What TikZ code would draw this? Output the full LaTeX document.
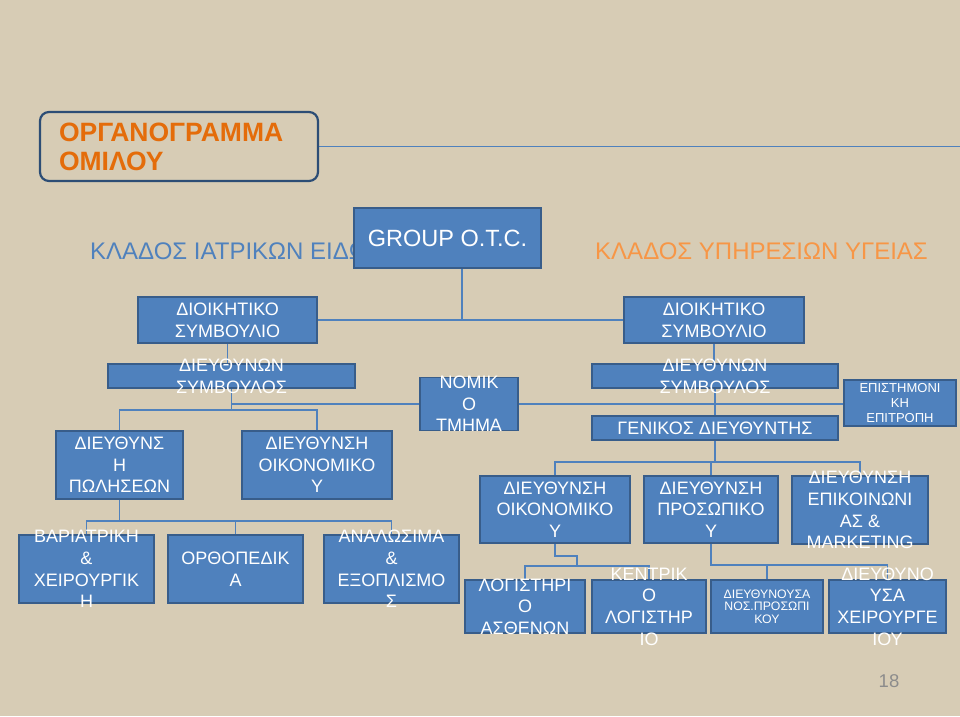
\documentclass[tikz,border=0pt]{standalone}
\usepackage{fontspec}
\setmainfont{Liberation Sans}
\usepackage{xcolor}
\usepackage{tikz}
\usetikzlibrary{backgrounds}
\definecolor{linen}{RGB}{215,204,181}
\definecolor{unitfill}{RGB}{79,129,189}
\definecolor{unitline}{RGB}{56,93,138}
\definecolor{titleline}{RGB}{44,77,117}
\definecolor{titleorange}{RGB}{228,108,10}
\definecolor{medblue}{RGB}{79,129,189}
\definecolor{careorange}{RGB}{247,150,70}
\definecolor{pagegray}{RGB}{140,140,140}
\tikzset{
  % node options
  unit/.style={rectangle,draw=unitline,fill=unitfill,line width=1.8pt,inner sep=0pt},
  wh/.style 2 args={minimum width=#1pt,minimum height=#2pt},
  unittext/.style={text=white,align=center,inner sep=0pt,font=\fontsize{18}{21.7}\selectfont},
  smalltext/.style={unittext,font=\fontsize{13}{15}\selectfont},
  tinytext/.style={unittext,font=\fontsize{12.3}{12.6}\selectfont},
  heading/.style={anchor=base west,inner sep=0pt,font=\fontsize{24}{28}\selectfont},
  titlebox/.style={rectangle,rounded corners=9pt,draw=titleline,line width=2.2pt,
    text=titleorange,align=left,font=\bfseries\fontsize{26.5}{29}\selectfont},
  % path options
  link/.style={draw=medblue,line width=1.2pt},
}

\begin{document}
\begin{tikzpicture}[x=1pt,y=-1pt]
  \useasboundingbox (0,0) rectangle (960,716);
  \begin{scope}[on background layer]
    \fill[linen] (0,0) rectangle (960,716);
  \end{scope}

  % title and branches
  \node[titlebox,text width=240pt,inner xsep=19pt,minimum height=69pt] (title) at (179,146.5) {ΟΡΓΑΝΟΓΡΑΜΜΑ\\ΟΜΙΛΟΥ};
  \node[heading,text=medblue] (hdL) at (90,259) {ΚΛΑΔΟΣ ΙΑΤΡΙΚΩΝ ΕΙΔΩΝ};
  \node[heading,text=careorange] (hdR) at (595,259) {ΚΛΑΔΟΣ ΥΠΗΡΕΣΙΩΝ ΥΓΕΙΑΣ};
  \node[unit,wh={187}{60},text=white,font=\fontsize{23.5}{28}\selectfont] (group) at (447.5,238) {GROUP O.T.C.};

  % medical products branch
  \node[unit,wh={179}{46},label={[unittext]center:ΔΙΟΙΚΗΤΙΚΟ\\ΣΥΜΒΟΥΛΙΟ}] (dsL) at (227.5,320) {};
  \node[unit,wh={247}{24},label={[unittext]center:ΔΙΕΥΘΥΝΩΝ\\ΣΥΜΒΟΥΛΟΣ}] (ceoL) at (231.5,376) {};
  \node[unit,wh={98}{53},label={[unittext]center:ΝΟΜΙΚ\\Ο\\ΤΜΗΜΑ}] (nomiko) at (469,404) {};
  \node[unit,wh={127}{68},label={[unittext]center:ΔΙΕΥΘΥΝΣ\\Η\\ΠΩΛΗΣΕΩΝ}] (pol) at (119.5,465) {};
  \node[unit,wh={150}{68},label={[unittext]center:ΔΙΕΥΘΥΝΣΗ\\ΟΙΚΟΝΟΜΙΚΟ\\Υ}] (oik1) at (317,465) {};
  \node[unit,wh={135}{68},label={[unittext]center:ΒΑΡΙΑΤΡΙΚΗ\\\&\\ΧΕΙΡΟΥΡΓΙΚ\\Η}] (bari) at (86.5,569) {};
  \node[unit,wh={135}{68},label={[unittext]center:ΟΡΘΟΠΕΔΙΚ\\Α}] (ortho) at (235.5,569) {};
  \node[unit,wh={135}{68},label={[unittext]center:ΑΝΑΛΩΣΙΜΑ\\\&\\ΕΞΟΠΛΙΣΜΟ\\Σ}] (anal) at (391.5,569) {};

  % health services branch
  \node[unit,wh={180}{46},label={[unittext]center:ΔΙΟΙΚΗΤΙΚΟ\\ΣΥΜΒΟΥΛΙΟ}] (dsR) at (714,320) {};
  \node[unit,wh={246}{24},label={[unittext]center:ΔΙΕΥΘΥΝΩΝ\\ΣΥΜΒΟΥΛΟΣ}] (ceoR) at (715,376) {};
  \node[unit,wh={112}{46},label={[smalltext]center:ΕΠΙΣΤΗΜΟΝΙ\\ΚΗ\\ΕΠΙΤΡΟΠΗ}] (epist) at (900,403) {};
  \node[unit,wh={246}{24},label={[unittext]center:ΓΕΝΙΚΟΣ ΔΙΕΥΘΥΝΤΗΣ}] (gen) at (715,428) {};
  \node[unit,wh={150}{67},label={[unittext]center:ΔΙΕΥΘΥΝΣΗ\\ΟΙΚΟΝΟΜΙΚΟ\\Υ}] (oik2) at (555,509.5) {};
  \node[unit,wh={134}{67},label={[unittext]center:ΔΙΕΥΘΥΝΣΗ\\ΠΡΟΣΩΠΙΚΟ\\Υ}] (pros) at (711,509.5) {};
  \node[unit,wh={136}{68},label={[unittext]center:ΔΙΕΥΘΥΝΣΗ\\ΕΠΙΚΟΙΝΩΝΙ\\ΑΣ \&\\MARKETING}] (epik) at (860,510) {};
  \node[unit,wh={120}{53},label={[unittext]center:ΛΟΓΙΣΤΗΡΙ\\Ο\\ΑΣΘΕΝΩΝ}] (logA) at (525,606.5) {};
  \node[unit,wh={114}{53},label={[unittext]center:ΚΕΝΤΡΙΚ\\Ο\\ΛΟΓΙΣΤΗΡ\\ΙΟ}] (kent) at (649,606.5) {};
  \node[unit,wh={112}{53},label={[tinytext]center:ΔΙΕΥΘΥΝΟΥΣΑ\\ΝΟΣ.ΠΡΟΣΩΠΙ\\ΚΟΥ}] (nosp) at (767,606.5) {};
  \node[unit,wh={117}{53},label={[unittext]center:ΔΙΕΥΘΥΝΟ\\ΥΣΑ\\ΧΕΙΡΟΥΡΓΕ\\ΙΟΥ}] (xeir) at (887.5,606.5) {};

  \node[text=pagegray,font=\fontsize{18.5}{22}\selectfont] (page) at (889,681) {18};

  % junctions
  \coordinate (edge) at (960,146.5);
  \coordinate (hub) at (462,320);
  \coordinate (jL) at (231.5,410);
  \coordinate (jP) at (119.5,521);
  \coordinate (jG) at (715,462);
  \coordinate (kO) at (577,566);
  \coordinate (kP) at (711,565);

  \begin{scope}[on background layer]
    \draw[link] (title.east) -- (edge);
    \draw[link] (group.south -| hub) -- (hub);
    \draw[link] (dsL.east) -- (dsR.west);
    % left side
    \draw[link] (dsL.south) -- (dsL.south |- ceoL.north);
    \draw[link] (ceoL.south) -- (jL);
    \draw[link] (ceoL.south |- nomiko.west) -- (nomiko.west);
    \draw[link] (pol.north) |- (jL) -| (oik1.north);
    \draw[link] (pol.south) -- (jP);
    \draw[link] (bari.north) |- (jP) -| (anal.north);
    \draw[link] (ortho.north) -- (ortho.north |- jP);
    % right side
    \draw[link] (dsR.south) -- (dsR.south |- ceoR.north);
    \draw[link] (ceoR.south) -- (gen.north);
    \draw[link] (nomiko.east) -- (nomiko.east -| epist.west);
    \draw[link] (gen.south) -- (jG);
    \draw[link] (oik2.north) |- (jG) -| (epik.north);
    \draw[link] (pros.north) -- (pros.north |- jG);
    \draw[link] (oik2.south) -- ++(0,12) -| (kO);
    \draw[link] (logA.north) |- (kO) -| (kent.north);
    \draw[link] (pros.south) -- (kP) -| (xeir.north);
    \draw[link] (nosp.north) -- (nosp.north |- kP);
  \end{scope}
\end{tikzpicture}
\end{document}
